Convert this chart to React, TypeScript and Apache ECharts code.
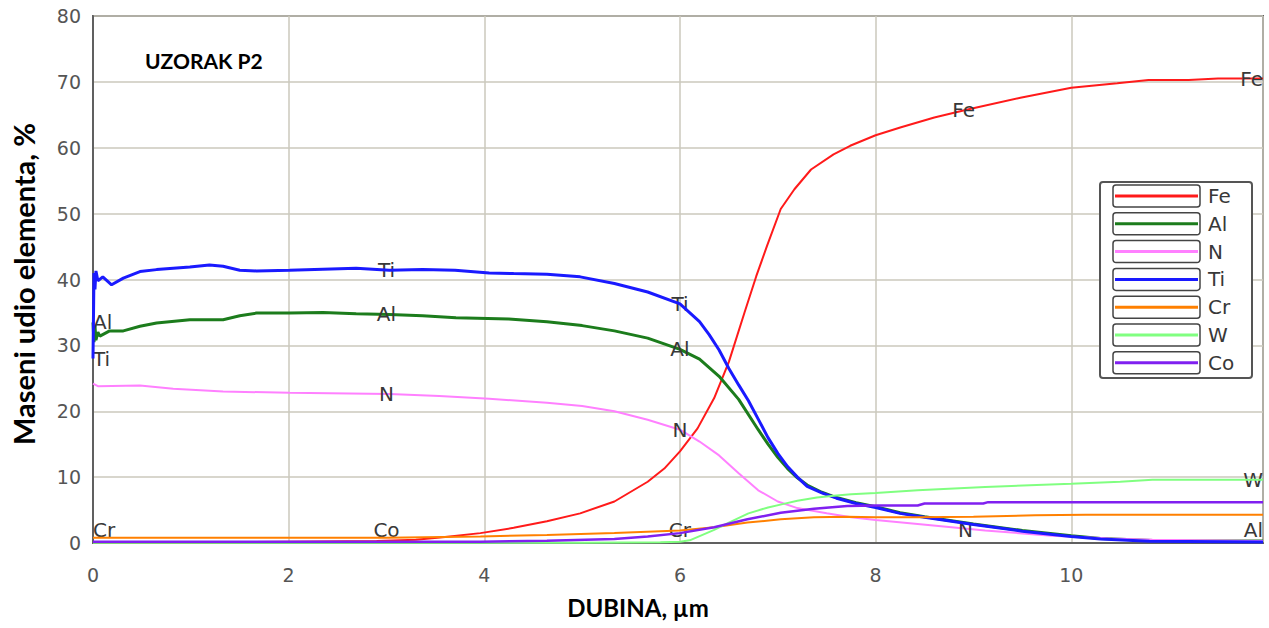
import React, { useEffect, useRef } from "react";
import * as echarts from "echarts";

// ---- data (depth in µm, mass fraction in %) ----
const names = ["Fe", "Al", "N", "Ti", "Cr", "W", "Co"];
const colors = ["#ff1a1a", "#1c7c1c", "#ff80ff", "#1a1aff", "#ff8000", "#80ff80", "#8020f0"];
const lineWidths = [2, 3, 2, 3, 2, 2, 2.5];

const fe: [number, number][] = [[0,0.1],[1,0.1],[2,0.2],[2.9,0.3],[3.3,0.5],[3.6,0.9],[3.96,1.5],[4.3,2.3],[4.64,3.3],[4.98,4.5],[5.33,6.3],[5.67,9.3],[5.84,11.3],[6.0,13.9],[6.18,17.4],[6.35,22.0],[6.5,27.5],[6.66,35.0],[6.78,40.5],[6.89,45.1],[7.03,50.7],[7.17,53.7],[7.34,56.7],[7.57,59.0],[7.74,60.3],[8.0,61.9],[8.26,63.1],[8.6,64.6],[8.94,65.8],[9.48,67.6],[10.0,69.1],[10.47,69.8],[10.79,70.3],[11.2,70.3],[11.5,70.5],[11.96,70.5]];
const al: [number, number][] = [[0,33.5],[0.01,30.5],[0.02,33.0],[0.03,30.8],[0.05,32.0],[0.07,31.4],[0.17,32.2],[0.31,32.2],[0.48,32.9],[0.65,33.4],[0.99,33.9],[1.33,33.9],[1.5,34.5],[1.67,34.9],[2.01,34.9],[2.35,35.0],[2.69,34.8],[3.03,34.7],[3.37,34.5],[3.71,34.2],[4.25,34.0],[4.64,33.6],[5.0,33.0],[5.33,32.2],[5.67,31.1],[6.0,29.4],[6.2,27.9],[6.4,25.3],[6.6,21.8],[6.8,17.2],[6.9,15.0],[7.0,13.0],[7.1,11.3],[7.2,9.9],[7.3,8.8],[7.45,7.7],[7.6,6.9],[7.8,6.1],[8.0,5.5],[8.25,4.6],[8.5,4.0],[9.0,2.9],[9.5,1.9],[10.0,1.1],[10.3,0.7],[10.9,0.35],[11.96,0.3]];
const nit: [number, number][] = [[0,24.2],[0.05,23.8],[0.48,23.9],[0.82,23.4],[1.33,23.0],[2.01,22.8],[3.03,22.6],[3.54,22.3],[4.05,21.9],[4.64,21.3],[5.0,20.8],[5.33,20.0],[5.67,18.7],[6.0,17.2],[6.2,15.4],[6.4,13.3],[6.6,10.6],[6.8,8.0],[7.0,6.3],[7.2,5.3],[7.5,4.5],[7.75,3.9],[8.0,3.5],[8.43,2.9],[9.12,1.9],[9.8,1.1],[10.4,0.7],[10.83,0.5],[11.96,0.3]];
const ti: [number, number][] = [[0,28],[0.01,41],[0.02,38.5],[0.03,41.3],[0.05,39.8],[0.1,40.4],[0.19,39.2],[0.31,40.2],[0.48,41.2],[0.65,41.5],[0.82,41.7],[0.99,41.9],[1.19,42.2],[1.33,42.0],[1.5,41.4],[1.67,41.3],[2.01,41.4],[2.69,41.7],[3.03,41.4],[3.37,41.5],[3.7,41.4],[4.05,41.0],[4.3,40.9],[4.64,40.8],[4.98,40.4],[5.33,39.4],[5.67,38.1],[6.0,36.3],[6.2,33.6],[6.3,31.6],[6.4,29.3],[6.5,26.5],[6.6,24.0],[6.7,21.6],[6.8,18.8],[6.9,16.0],[7.0,13.6],[7.1,11.6],[7.2,10.0],[7.3,8.6],[7.45,7.6],[7.6,6.8],[7.8,6.0],[8.0,5.4],[8.25,4.5],[8.5,3.9],[9.0,2.8],[9.5,1.8],[10.0,1.0],[10.3,0.6],[10.8,0.25],[11.96,0.15]];
const cr: [number, number][] = [[0,0.8],[1,0.8],[2,0.8],[3,0.8],[3.96,1.0],[4.64,1.2],[5.33,1.5],[6.0,1.9],[6.35,2.4],[6.69,3.1],[7.03,3.6],[7.37,3.9],[7.71,4.0],[8.0,3.9],[8.43,3.9],[9.0,4.0],[9.63,4.2],[10.15,4.3],[11.96,4.3]];
const w: [number, number][] = [[0,0.05],[5.0,0.05],[5.8,0.1],[6.0,0.2],[6.1,0.4],[6.35,2.0],[6.5,3.1],[6.7,4.5],[6.9,5.4],[7.05,5.9],[7.2,6.4],[7.4,6.9],[7.6,7.2],[7.75,7.4],[8.0,7.6],[8.43,8.0],[9.12,8.5],[10.0,9.0],[10.5,9.3],[10.83,9.6],[11.96,9.6]];
const co: [number, number][] = [[0,0.2],[3.0,0.2],[3.96,0.2],[4.64,0.35],[5.33,0.6],[5.67,1.0],[6.0,1.5],[6.35,2.4],[6.69,3.6],[7.03,4.6],[7.37,5.2],[7.71,5.6],[8.0,5.7],[8.43,5.7],[8.5,6.0],[9.1,6.0],[9.15,6.2],[11.96,6.2]];
const seriesData = [fe, al, nit, ti, cr, w, co];

// inline curve labels: [element, depth, alignment]
const curveLabels: [string, number, string][] = [
  ["Fe", 8.9, "center"], ["Fe", 11.96, "right"],
  ["Al", 0, "left"], ["Al", 3, "center"], ["Al", 6, "center"], ["Al", 11.96, "right"],
  ["N", 3, "center"], ["N", 6, "center"], ["N", 8.92, "center"],
  ["Ti", 0, "left"], ["Ti", 3, "center"], ["Ti", 6, "center"],
  ["Cr", 0, "left"], ["Cr", 6, "center"],
  ["Co", 3, "center"],
  ["W", 11.96, "right"],
];

const X_MAX = 11.96;
const title = "UZORAK P2";
const xTitle = "DUBINA, µm";
const yTitle = "Maseni udio elementa, %";

const LABEL_FONT = "DejaVu Sans";

function nearestValue(data: [number, number][], x: number): number {
  let best = data[0];
  for (const p of data) if (Math.abs(p[0] - x) < Math.abs(best[0] - x)) best = p;
  return best[1];
}

export default function App() {
  const ref = useRef<HTMLDivElement>(null);
  useEffect(() => {
    if (!ref.current) return;
    const chart = echarts.init(ref.current, undefined, { renderer: "svg" });

    const series = names.map((name, i) => {
      const marks = curveLabels
        .filter((l) => l[0] === name)
        .map((l) => ({
          coord: [l[1], Math.max(2, nearestValue(seriesData[i], l[1]))],
          value: name,
          label: { align: l[2] },
        }));
      return {
        name,
        type: "line",
        data: seriesData[i],
        showSymbol: false,
        symbol: "none",
        lineStyle: { color: colors[i], width: lineWidths[i] },
        itemStyle: { color: colors[i] },
        z: 2 + i,
        markPoint: {
          symbol: "circle",
          symbolSize: 0,
          silent: true,
          label: {
            show: true,
            position: "inside",
            formatter: name,
            color: "#383838",
            fontFamily: LABEL_FONT,
            fontSize: 20,
            verticalAlign: "middle",
          },
          data: marks,
        },
      };
    });

    const legendTop = 196;
    const legendStep = 27.8;
    const legendEls: any[] = [
      {
        type: "rect",
        shape: { x: 1100, y: 182, width: 152, height: 196, r: 3 },
        style: { fill: "#ffffff", stroke: "#555555", lineWidth: 2 },
        z: 100,
      },
    ];
    names.forEach((n, i) => {
      const cy = legendTop + i * legendStep;
      legendEls.push({
        type: "rect",
        shape: { x: 1113, y: cy - 11, width: 87, height: 22, r: 3 },
        style: { fill: "#ffffff", stroke: "#444444", lineWidth: 1.5 },
        z: 101,
      });
      legendEls.push({
        type: "line",
        shape: { x1: 1115, y1: cy, x2: 1198, y2: cy },
        style: { stroke: colors[i], lineWidth: 3 },
        z: 102,
      });
      legendEls.push({
        type: "text",
        x: 1208,
        y: cy,
        style: {
          text: n,
          font: `20px "${LABEL_FONT}"`,
          fill: "#383838",
          align: "left",
          verticalAlign: "middle",
        },
        z: 102,
      });
    });

    chart.setOption({
      animation: false,
      backgroundColor: "#ffffff",
      grid: {
        left: 93,
        top: 16,
        right: 6,
        bottom: 85,
        show: true,
        borderColor: "#606060",
        borderWidth: 2,
        containLabel: false,
      },
      xAxis: {
        type: "value",
        min: 0,
        max: X_MAX,
        interval: 2,
        axisLine: { show: true, lineStyle: { color: "#606060", width: 2 } },
        axisTick: { show: false },
        splitLine: { show: true, lineStyle: { color: "#cbc9bd", width: 1.5 } },
        axisLabel: {
          showMaxLabel: false,
          margin: 22,
          color: "#555555",
          fontFamily: LABEL_FONT,
          fontSize: 19,
        },
      },
      yAxis: {
        type: "value",
        min: 0,
        max: 80,
        interval: 10,
        axisLine: { show: true, lineStyle: { color: "#606060", width: 2 } },
        axisTick: { show: false },
        splitLine: { show: true, lineStyle: { color: "#cbc9bd", width: 1.5 } },
        axisLabel: {
          margin: 12,
          color: "#555555",
          fontFamily: LABEL_FONT,
          fontSize: 19,
        },
      },
      legend: { show: false, data: names },
      series,
      graphic: [
        {
          type: "text",
          x: 145,
          y: 60,
          style: {
            text: title,
            font: 'bold 21px "Lato"',
            fill: "#000000",
            align: "left",
            verticalAlign: "middle",
          },
          z: 100,
        },
        {
          type: "text",
          x: 638,
          y: 607,
          style: {
            text: xTitle,
            font: 'bold 24px "Lato"',
            fill: "#000000",
            align: "center",
            verticalAlign: "middle",
          },
          z: 100,
        },
        {
          type: "text",
          x: 23,
          y: 284,
          rotation: Math.PI / 2,
          style: {
            text: yTitle,
            font: 'bold 29px "Lato"',
            fill: "#000000",
            align: "center",
            verticalAlign: "middle",
          },
          z: 100,
        },
        ...legendEls,
      ],
    });
    return () => chart.dispose();
  }, []);
  return (
    <div
      ref={ref}
      style={{ position: "fixed", left: 0, top: 0, width: 1269, height: 628, background: "#fff" }}
    />
  );
}
